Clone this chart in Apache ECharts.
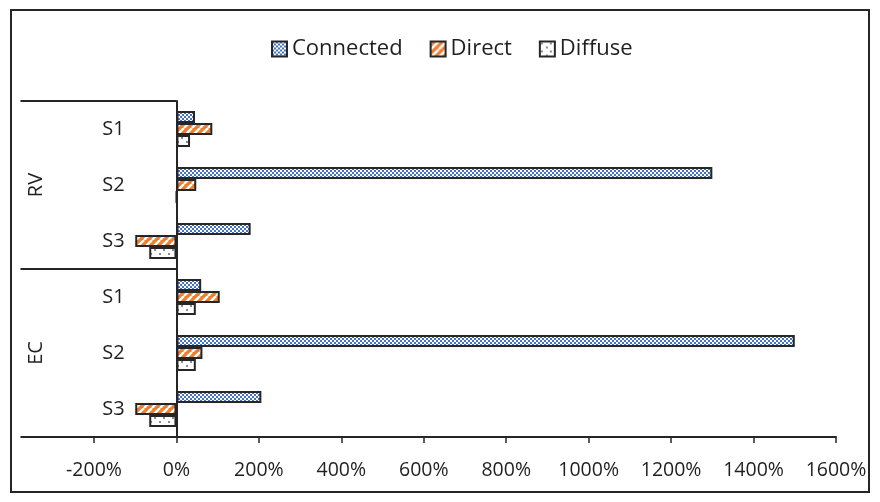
<!DOCTYPE html>
<html>
<head>
<meta charset="utf-8">
<script src="https://cdn.jsdelivr.net/npm/echarts@6/dist/echarts.min.js"></script>
<style>
  html, body { margin: 0; padding: 0; background: #fff; }
  #chart { width: 880px; height: 502px; }
</style>
</head>
<body>
<div id="chart"></div>
<script>
// Outer groups and inner sites (top to bottom)
const groups = ['RV', 'EC'];
const sites = ['S1', 'S2', 'S3'];
const categories = ['RV|S1', 'RV|S2', 'RV|S3', 'EC|S1', 'EC|S2', 'EC|S3'];

// Percent change per category
const connected = [45, 1300, 180, 60, 1500, 206];
const direct    = [87, 48, -100, 105, 63, -100];
const diffuse   = [33, 0, -66, 47, 47, -66];

// Value axis range (percent)
const axisMin = -200;
const axisMax = 1600;
const axisStep = 200;

const FONT = '"Open Sans", "Noto Sans", sans-serif';
const INK = '#262626';
const TEXT = '#1f1f1f';
const GRID = { left: 94, right: 44, top: 101, bottom: 65 };

function makeTile(w, h, draw) {
  const c = document.createElement('canvas');
  c.width = w; c.height = h;
  draw(c.getContext('2d'), w, h);
  return c;
}

// small blue/white checkerboard
const checkerTile = makeTile(4, 4, (ctx) => {
  ctx.fillStyle = '#ffffff'; ctx.fillRect(0, 0, 4, 4);
  ctx.fillStyle = '#4472C4';
  ctx.fillRect(0, 0, 2, 2);
  ctx.fillRect(2, 2, 2, 2);
});

// orange with white upward diagonal stripes
const stripeTile = makeTile(8, 8, (ctx, w, h) => {
  ctx.fillStyle = '#ED7D31'; ctx.fillRect(0, 0, w, h);
  ctx.strokeStyle = '#ffffff';
  ctx.lineWidth = 2.4;
  for (let o = -w; o <= w; o += w) {
    ctx.beginPath();
    ctx.moveTo(o, h);
    ctx.lineTo(o + w, 0);
    ctx.stroke();
  }
});

// white with sparse grey dots
const dotTile = makeTile(9, 8, (ctx) => {
  ctx.fillStyle = '#ffffff'; ctx.fillRect(0, 0, 9, 8);
  ctx.fillStyle = '#8c8c8c';
  ctx.fillRect(1, 1, 2, 2);
  ctx.fillRect(6, 5, 2, 2);
});

function barSeries(name, data, tile) {
  return {
    name: name,
    type: 'bar',
    data: data,
    barWidth: 12,
    barGap: '0%',
    xAxisIndex: 0,
    yAxisIndex: 0,
    itemStyle: {
      color: { image: tile, repeat: 'repeat' },
      borderColor: INK,
      borderWidth: 2
    },
    emphasis: { disabled: true }
  };
}

const chart = echarts.init(document.getElementById('chart'), null, { renderer: 'canvas' });

chart.setOption({
  animation: false,
  backgroundColor: '#ffffff',
  textStyle: { fontFamily: FONT },
  graphic: [{
    type: 'rect',
    shape: { x: 11, y: 10, width: 858, height: 482 },
    style: { fill: 'none', stroke: INK, lineWidth: 2 },
    silent: true
  }],
  legend: {
    top: 38,
    left: 271,
    padding: 0,
    itemWidth: 15,
    itemHeight: 15,
    itemGap: 27,
    icon: 'rect',
    textStyle: { fontSize: 22, color: TEXT, fontFamily: FONT },
    data: ['Connected', 'Direct', 'Diffuse']
  },
  grid: Object.assign({ containLabel: false, outerBoundsMode: 'none' }, GRID),
  xAxis: {
    type: 'value',
    min: axisMin,
    max: axisMax,
    interval: axisStep,
    axisLine: { show: true, onZero: false, lineStyle: { color: INK, width: 2 } },
    axisTick: { show: true, length: 6, lineStyle: { color: INK, width: 1.5 } },
    splitLine: { show: false },
    axisLabel: {
      formatter: (v) => v + '%',
      color: TEXT,
      fontSize: 19.5,
      fontFamily: FONT,
      margin: 23
    }
  },
  yAxis: [{
    // inner level: sites, line drawn at the value axis zero
    type: 'category',
    inverse: true,
    position: 'left',
    data: categories,
    axisLine: { show: true, onZero: false, lineStyle: { color: INK, width: 2 } },
    axisTick: { show: false },
    splitLine: { show: false },
    axisLabel: {
      formatter: (v) => v.split('|')[1],
      align: 'center',
      margin: 63,
      color: TEXT,
      fontSize: 20,
      fontFamily: FONT
    }
  }, {
    // outer level: groups, ticks act as group separators
    type: 'category',
    inverse: true,
    position: 'left',
    data: groups,
    axisLine: { show: false, onZero: false },
    axisTick: { show: true, length: 156, interval: 0, lineStyle: { color: INK, width: 2 } },
    splitLine: { show: false },
    axisLabel: {
      rotate: 90,
      align: 'center',
      verticalAlign: 'middle',
      margin: 140,
      color: TEXT,
      fontSize: 20,
      fontFamily: FONT
    }
  }],
  series: [
    barSeries('Connected', connected, checkerTile),
    barSeries('Direct', direct, stripeTile),
    barSeries('Diffuse', diffuse, dotTile)
  ]
});

// move both category axes onto the value axis zero
const zeroX = chart.convertToPixel({ xAxisIndex: 0 }, 0);
const shift = GRID.left - zeroX;
chart.setOption({ yAxis: [{ offset: shift }, { offset: shift }] });
</script>
</body>
</html>
